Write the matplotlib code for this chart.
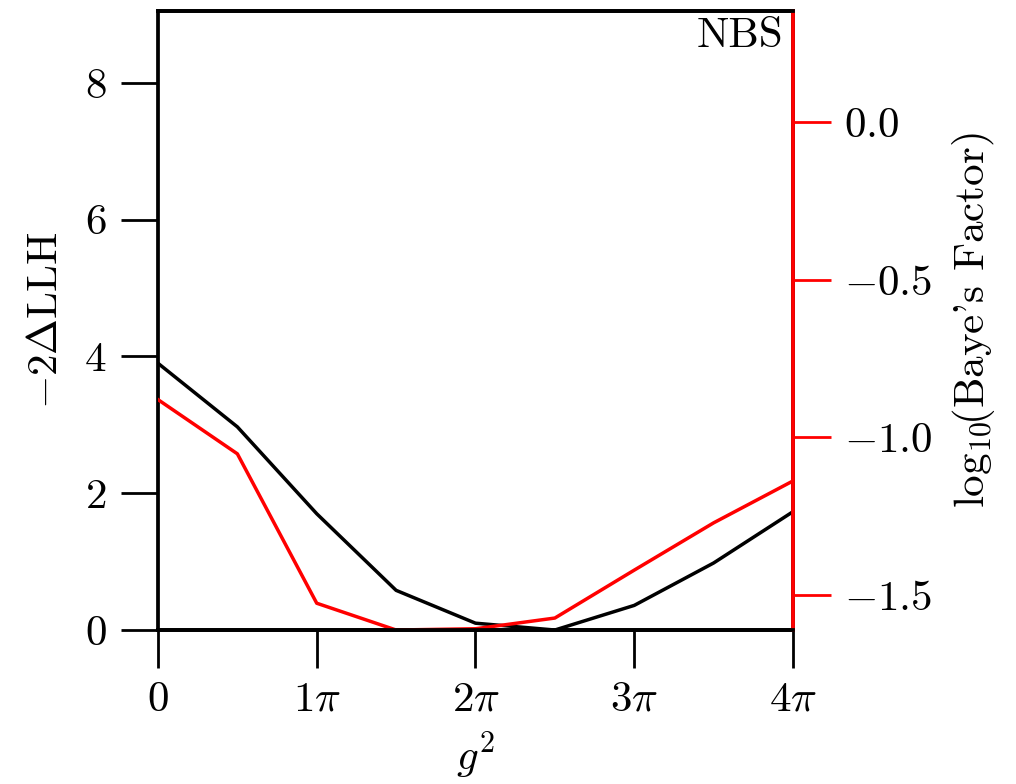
import numpy as np
import matplotlib

matplotlib.use("Agg")
import matplotlib.pyplot as plt

plt.rcParams["font.family"] = "serif"
plt.rcParams["font.serif"] = ["cmr10"]
plt.rcParams["mathtext.fontset"] = "cm"
plt.rcParams["axes.formatter.use_mathtext"] = True
plt.rcParams["font.size"] = 31

# g^2 grid in units of pi
g2_over_pi = [0.0, 0.5, 1.0, 1.5, 2.0, 2.5, 3.0, 3.5, 4.0]
# -2 delta log-likelihood (left axis)
dllh = [3.90, 2.97, 1.70, 0.58, 0.10, 0.0, 0.36, 0.98, 1.73]
# log10 Bayes factor (right axis)
log_bf = [-0.880, -1.052, -1.526, -1.611, -1.607, -1.573, -1.421, -1.271, -1.138]

xtick_mult = [0, 1, 2, 3, 4]
xtick_labels = [r"$0$", r"$1\pi$", r"$2\pi$", r"$3\pi$", r"$4\pi$"]
left_ticks = [0, 2, 4, 6, 8]
right_ticks = [-1.5, -1.0, -0.5, 0.0]

x = np.array(g2_over_pi) * np.pi

fig = plt.figure(figsize=(10.16, 7.84), dpi=100)
ax = fig.add_axes([0.1555, 0.1964, 0.625, 0.7896])
ax2 = ax.twinx()

ax.plot(x, dllh, color="black", lw=2.5)
ax2.plot(x, log_bf, color="red", lw=2.5)

ax.set_xlim(0, 4 * np.pi)
ax.set_ylim(0, 9.05)
ax2.set_ylim(-1.611, 0.353)

ax.set_xticks(np.array(xtick_mult) * np.pi)
ax.set_xticklabels(xtick_labels)
ax.set_yticks(left_ticks)
ax2.set_yticks(right_ticks)

for a in (ax, ax2):
    for s in a.spines.values():
        s.set_linewidth(2.7)
ax2.spines["right"].set_color("red")
ax2.spines["left"].set_visible(False)

ax.tick_params(direction="out", length=27, width=2.0, pad=10)
ax2.tick_params(axis="y", direction="out", length=27, width=2.0, colors="red",
                labelcolor="black", pad=10)

ax.set_xlabel(r"$g^2$", labelpad=8)
ax.set_ylabel(r"$-2\Delta\mathrm{LLH}$", labelpad=14)
ax2.set_ylabel(r"$\log_{10}\!\!$(Baye's Factor)", labelpad=12)

ax.text(0.985, 0.99, "NBS", transform=ax.transAxes, ha="right", va="top")

fig.savefig("out.png", dpi=100)
